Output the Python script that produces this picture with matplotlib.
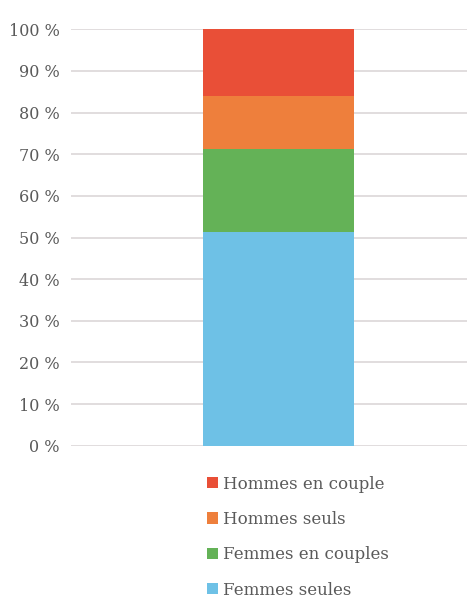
import matplotlib
matplotlib.use('Agg')
import matplotlib.pyplot as plt
import numpy as np

# plot settings
plt.rcParams['font.family'] = ['DejaVu Serif']
plt.rcParams['font.size'] = 11

categories = ['Femmes seules', 'Femmes en couples', 'Hommes seuls', 'Hommes en couple']
values = [51.4, 19.8, 12.9, 15.9]
colors = ['#6ec1e6', '#64b257', '#ee7f3c', '#e94f37']
yticks = np.arange(0, 101, 10)
yticklabels = ['{} %'.format(t) for t in yticks]

fig = plt.figure(figsize=(4.67, 5.99), dpi=100)
ax = fig.add_axes([0.152, 0.256, 0.848, 0.695])

bottom = 0.0
for lab, v, col in zip(categories, values, colors):
    ax.bar(0.525, v, width=0.381, bottom=bottom, color=col, label=lab, zorder=3)
    bottom += v

ax.set_xlim(0, 1)
ax.set_ylim(0, 100)
ax.set_yticks(yticks)
ax.set_yticklabels(yticklabels, color='#5a5a5a', fontsize=11.5)
ax.set_xticks([])
ax.tick_params(axis='y', length=0, pad=8)
ax.grid(axis='y', color='#d9d3d5', linewidth=1.1, zorder=0)
for s in ax.spines.values():
    s.set_visible(False)

# legend below the bar, top entry first
handles, labels = ax.get_legend_handles_labels()
leg = fig.legend(handles[::-1], labels[::-1], loc='upper left',
                 bbox_to_anchor=(0.425, 0.22), frameon=False,
                 handlelength=0.65, handleheight=0.65, handletextpad=0.3,
                 labelspacing=1.1, borderpad=0, fontsize=12)
for t in leg.get_texts():
    t.set_color('#5a5a5a')

fig.savefig('out.png', dpi=100)
